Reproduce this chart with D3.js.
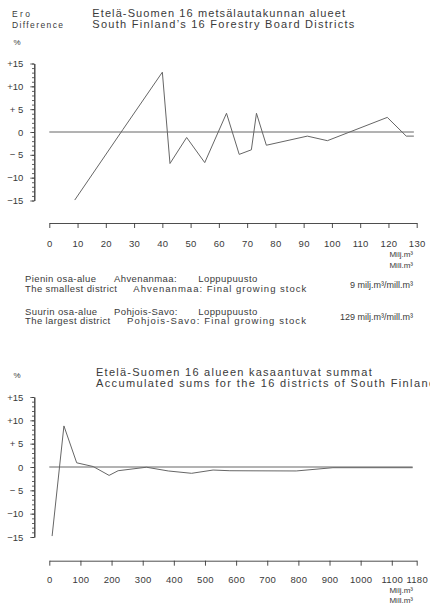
<!DOCTYPE html>
<html>
<head>
<meta charset="utf-8">
<script src="https://cdn.jsdelivr.net/npm/d3@7"></script>
<style>
  html, body { margin: 0; padding: 0; background: #fff; overflow: hidden; }
  svg { display: block; }
  text { font-family: "Liberation Sans", Arial, sans-serif; fill: #3a3a3a; }
</style>
</head>
<body>
<svg id="chart" width="430" height="607"></svg>
<script>
// District sizes (final growing stock, mill. m3) and difference (%) per district
const districtSize = [9, 26, 40, 42.7, 48.6, 55, 62.7, 67.2, 71.5, 73.3, 76.8, 91.3, 98.4, 119.6, 126.3, 129];
const districtDiff = [-14.9, 0.5, 13.1, -6.9, -1.2, -6.7, 4.1, -4.9, -3.9, 4.1, -2.9, -0.9, -1.9, 3.2, -0.9, -0.9];

// Accumulated sums over the districts (mill. m3) and their difference (%)
const cumulativeSize = [9, 47, 88, 141, 192, 221, 312, 382, 457, 526, 580, 793, 911, 1167];
const cumulativeDiff = [-14.8, 8.8, 0.9, 0.1, -1.8, -0.8, -0.05, -0.85, -1.35, -0.65, -0.8, -0.85, -0.15, -0.15];

// Axis ticks
const yMajorTicks = [-15, -10, -5, 0, 5, 10, 15];
const yTickLabels = ["\u221215", "\u221210", "\u2212 5", "0", "+ 5", "+10", "+15"];
const xTicksTop = [0, 10, 20, 30, 40, 50, 60, 70, 80, 90, 100, 110, 120, 130];
const xTicksBottom = [0, 100, 200, 300, 400, 500, 600, 700, 800, 900, 1000, 1100, 1180];

const svg = d3.select("#chart");
const ink = "#3a3a3a";
const lineInk = "#666";

function label(x, y, str, size, opts = {}) {
  const t = svg.append("text")
    .attr("x", x).attr("y", y)
    .attr("font-size", size)
    .attr("text-anchor", opts.anchor || "start")
    .text(str);
  if (opts.width) t.attr("textLength", opts.width).attr("lengthAdjust", "spacing");
  if (opts.spacing) t.attr("letter-spacing", opts.spacing);
  return t;
}

function panel(cfg) {
  const x = d3.scaleLinear().domain(cfg.xDomain).range([49.3, 416.7]);
  const y = d3.scaleLinear().domain([-15, 15]).range(cfg.yRange);

  // y axis: minor ticks every unit, major every 5
  const yMinor = svg.append("g").attr("transform", "translate(34.3,0)")
    .call(d3.axisLeft(y).tickValues(d3.range(-15, 16, 1)).tickSize(2.3).tickSizeOuter(0).tickFormat(""));
  const yMajor = svg.append("g").attr("transform", "translate(34.3,0)")
    .call(d3.axisLeft(y).tickValues(yMajorTicks).tickSize(4).tickSizeOuter(0).tickPadding(7)
      .tickFormat((d, i) => yTickLabels[i]));
  [yMinor, yMajor].forEach(g => {
    g.selectAll("line").attr("stroke", ink).attr("stroke-width", 0.8);
    g.select(".domain").attr("stroke", ink).attr("stroke-width", 0.9);
    g.selectAll("text").attr("font-size", 9.5).attr("fill", ink)
      .attr("font-family", "'Liberation Sans', Arial, sans-serif");
  });

  // x axis
  const gx = svg.append("g").attr("transform", `translate(0,${cfg.xAxisY})`)
    .call(d3.axisBottom(x).tickValues(cfg.xTicks).tickSize(5).tickSizeOuter(0)
      .tickPadding(cfg.xPad).tickFormat(d => String(d)));
  gx.selectAll("line").attr("stroke", ink).attr("stroke-width", 0.9);
  gx.select(".domain").attr("stroke", ink).attr("stroke-width", 0.9);
  gx.selectAll("text").attr("font-size", 9.5).attr("fill", ink)
    .attr("letter-spacing", 0.3)
    .attr("font-family", "'Liberation Sans', Arial, sans-serif");

  // zero reference line
  const lastX = cfg.xs[cfg.xs.length - 1];
  svg.append("line")
    .attr("x1", x(0)).attr("x2", x(lastX))
    .attr("y1", y(0)).attr("y2", y(0))
    .attr("stroke", lineInk).attr("stroke-width", 1);

  // difference line
  const pts = cfg.xs.map((v, i) => [v, cfg.ys[i]]);
  svg.append("path")
    .datum(pts)
    .attr("fill", "none")
    .attr("stroke", lineInk)
    .attr("stroke-width", 1)
    .attr("stroke-linejoin", "miter")
    .attr("d", d3.line().x(d => x(d[0])).y(d => y(d[1])));

  // unit labels
  label(413, cfg.unitY, "Milj.m\u00b3", 8, { anchor: "end" });
  label(413, cfg.unitY + 10.5, "Mill.m\u00b3", 8, { anchor: "end" });
}

// ---- Upper panel: individual districts ----
label(12, 17.3, "Ero", 8.5, { width: 18 });
label(12, 27.7, "Difference", 8.5, { width: 51 });
label(13.5, 45, "%", 8);
label(92.3, 17, "Etel\u00e4-Suomen 16 mets\u00e4lautakunnan alueet", 11, { width: 252.7 });
label(92.3, 27.5, "South Finland\u2019s 16 Forestry Board Districts", 11, { width: 262 });

panel({
  xDomain: [0, 130], yRange: [200.5, 63.5],
  xAxisY: 223, xTicks: xTicksTop, xPad: 12,
  xs: districtSize, ys: districtDiff, unitY: 257.3
});

// smallest / largest district notes
const note = { spacing: 0.4 };
label(25, 282, "Pienin osa-alue", 9.5, note);
label(114, 282, "Ahvenanmaa:", 9.5, note);
label(198.3, 282, "Loppupuusto", 9.5, note);
label(25, 291.5, "The smallest district", 9.5, note);
label(133.3, 291.5, "Ahvenanmaa: Final growing stock", 9.5, { width: 173 });
label(413, 288, "9 milj.m\u00b3/mill.m\u00b3", 9, { anchor: "end" });

label(25, 314.5, "Suurin osa-alue", 9.5, note);
label(114, 314.5, "Pohjois-Savo:", 9.5, note);
label(198.3, 314.5, "Loppupuusto", 9.5, note);
label(25, 324, "The largest district", 9.5, note);
label(127, 324, "Pohjois-Savo: Final growing stock", 9.5, { width: 179 });
label(413, 320, "129 milj.m\u00b3/mill.m\u00b3", 9, { anchor: "end" });

// ---- Lower panel: accumulated sums ----
label(13.5, 377.5, "%", 8);
label(96, 375.5, "Etel\u00e4-Suomen 16 alueen kasaantuvat summat", 11, { width: 275.7 });
label(96, 386.5, "Accumulated sums for the 16 districts of South Finland", 11, { width: 339 });

panel({
  xDomain: [0, 1180], yRange: [537, 397],
  xAxisY: 560.7, xTicks: xTicksBottom, xPad: 10.6,
  xs: cumulativeSize, ys: cumulativeDiff, unitY: 592.7
});
</script>
</body>
</html>
